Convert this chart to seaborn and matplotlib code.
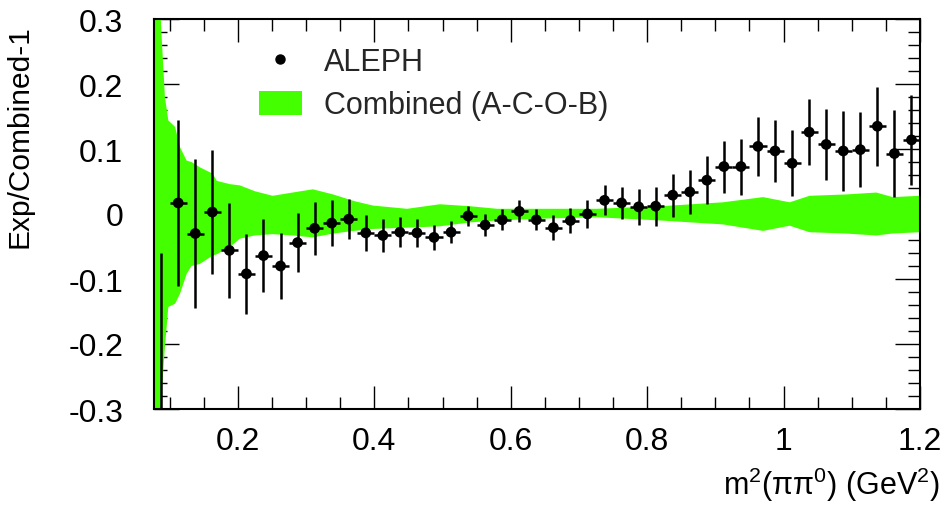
import numpy as np
import pandas as pd
import matplotlib
matplotlib.use("Agg")
import matplotlib.pyplot as plt
import seaborn as sns
from matplotlib.lines import Line2D
from matplotlib.patches import Patch
from matplotlib.ticker import MultipleLocator

# ---- data ----
aleph_x = [0.0875, 0.1125, 0.1375, 0.1625, 0.1875, 0.2125, 0.2375, 0.2625, 0.2875,
           0.3125, 0.3375, 0.3625, 0.3875, 0.4125, 0.4375, 0.4625, 0.4875, 0.5125,
           0.5375, 0.5625, 0.5875, 0.6125, 0.6375, 0.6625, 0.6875, 0.7125, 0.7375,
           0.7625, 0.7875, 0.8125, 0.8375, 0.8625, 0.8875, 0.9125, 0.9375, 0.9625,
           0.9875, 1.0125, 1.0375, 1.0625, 1.0875, 1.1125, 1.1375, 1.1625, 1.1875]
aleph_y = [-0.45, 0.017, -0.030, 0.003, -0.056, -0.092, -0.064, -0.080, -0.044,
           -0.022, -0.014, -0.008, -0.029, -0.033, -0.028, -0.029, -0.036, -0.028,
           -0.003, -0.017, -0.009, 0.004, -0.009, -0.021, -0.010, 0.000, 0.021,
           0.017, 0.011, 0.012, 0.029, 0.034, 0.052, 0.073, 0.073, 0.104,
           0.097, 0.078, 0.126, 0.107, 0.097, 0.099, 0.135, 0.093, 0.114]
aleph_err = [0.39, 0.128, 0.114, 0.096, 0.073, 0.062, 0.056, 0.051, 0.045,
             0.041, 0.035, 0.031, 0.028, 0.025, 0.023, 0.021, 0.019, 0.017,
             0.016, 0.017, 0.016, 0.017, 0.016, 0.019, 0.019, 0.021, 0.023,
             0.025, 0.028, 0.030, 0.033, 0.034, 0.037, 0.040, 0.043, 0.046,
             0.048, 0.051, 0.051, 0.055, 0.061, 0.058, 0.061, 0.067, 0.069]
bin_half = 0.0125

band_x = [0.077, 0.085, 0.088, 0.093, 0.098, 0.108, 0.115, 0.125, 0.132, 0.144,
          0.163, 0.169, 0.188, 0.203, 0.225, 0.251, 0.28, 0.31, 0.34, 0.37,
          0.398, 0.448, 0.496, 0.54, 0.58, 0.65, 0.726, 0.82, 0.911, 0.97,
          1.009, 1.038, 1.09, 1.136, 1.16, 1.2]
band_hi = [0.40, 0.35, 0.277, 0.18, 0.144, 0.134, 0.103, 0.082, 0.080, 0.072,
           0.062, 0.051, 0.046, 0.044, 0.035, 0.028, 0.033, 0.038, 0.030, 0.020,
           0.013, 0.008, 0.015, 0.012, 0.008, 0.008, 0.008, 0.012, 0.018, 0.026,
           0.018, 0.028, 0.030, 0.033, 0.026, 0.028]
band_lo = [-0.40, -0.35, -0.28, -0.205, -0.143, -0.138, -0.123, -0.092, -0.080, -0.077,
           -0.064, -0.062, -0.051, -0.038, -0.033, -0.031, -0.033, -0.036, -0.030, -0.026,
           -0.023, -0.021, -0.019, -0.013, -0.010, -0.007, -0.005, -0.010, -0.016, -0.026,
           -0.018, -0.028, -0.030, -0.033, -0.030, -0.028]

x_ticks = [0.2, 0.4, 0.6, 0.8, 1.0, 1.2]
x_ticklabels = ["0.2", "0.4", "0.6", "0.8", "1", "1.2"]
y_ticks = [-0.3, -0.2, -0.1, 0.0, 0.1, 0.2, 0.3]
y_ticklabels = ["-0.3", "-0.2", "-0.1", "0", "0.1", "0.2", "0.3"]

GREEN = "#44ff00"

sns.set_theme(style="ticks")
plt.rcParams["font.family"] = ["Liberation Sans", "DejaVu Sans"]
plt.rcParams["mathtext.fontset"] = "custom"
plt.rcParams["mathtext.rm"] = "Liberation Sans"
plt.rcParams["mathtext.it"] = "Liberation Sans:italic"

df = pd.DataFrame({"x": aleph_x, "y": aleph_y, "err": aleph_err})
band = pd.DataFrame({"x": band_x, "lo": band_lo, "hi": band_hi})

fig = plt.figure(figsize=(9.44, 5.06), dpi=100)
ax = fig.add_axes([154 / 944, 96 / 506, 766 / 944, 390 / 506])

ax.fill_between(band["x"], band["lo"], band["hi"], color=GREEN, lw=0, zorder=1)
ax.errorbar(df["x"], df["y"], yerr=df["err"], xerr=bin_half, fmt="none",
            ecolor="black", elinewidth=1.8, capsize=0, zorder=3)
sns.scatterplot(data=df, x="x", y="y", ax=ax, color="black", s=60,
                edgecolor="none", zorder=4, legend=False)

ax.set_xlim(0.077, 1.2)
ax.set_ylim(-0.3, 0.3)
ax.set_xticks(x_ticks)
ax.set_xticklabels(x_ticklabels)
ax.set_yticks(y_ticks)
ax.set_yticklabels(y_ticklabels)
ax.xaxis.set_minor_locator(MultipleLocator(0.05))
ax.yaxis.set_minor_locator(MultipleLocator(0.02))

ax.tick_params(axis="both", which="both", direction="in", top=True, right=True,
               color="black", labelsize=23, labelcolor="black")
ax.tick_params(axis="x", which="major", length=16.5, width=1.0, pad=12)
ax.tick_params(axis="x", which="minor", length=8.3, width=1.0)
ax.tick_params(axis="y", which="major", length=18, width=1.0, pad=22)
ax.tick_params(axis="y", which="minor", length=9, width=1.0)
for s in ax.spines.values():
    s.set_linewidth(1.5)
    s.set_color("black")
    s.set_zorder(5)

ax.set_xlabel(r"m$^{2}$(ππ$^{0}$) (GeV$^{2}$)", fontsize=22, loc="right", color="black")
ax.xaxis.set_label_coords((940 - 154) / 766, (410 - 466) / 390)
ax.set_ylabel("Exp/Combined-1", fontsize=21.5, loc="top", color="black")
ax.yaxis.set_label_coords((34 - 154) / 766, (410 - 25) / 390)

handles = [Line2D([], [], marker="o", color="black", ls="none", markersize=6.5),
           Patch(facecolor=GREEN, edgecolor="none")]
ax.legend(handles, ["ALEPH", "Combined (A-C-O-B)"], loc="upper left",
          bbox_to_anchor=((259 - 154) / 766, (410 - 48) / 390), frameon=False,
          fontsize=22, handlelength=1.4, handleheight=0.82, handletextpad=0.72,
          labelspacing=0.44, borderpad=0, borderaxespad=0)

fig.savefig("out.png", dpi=100, facecolor="white")
